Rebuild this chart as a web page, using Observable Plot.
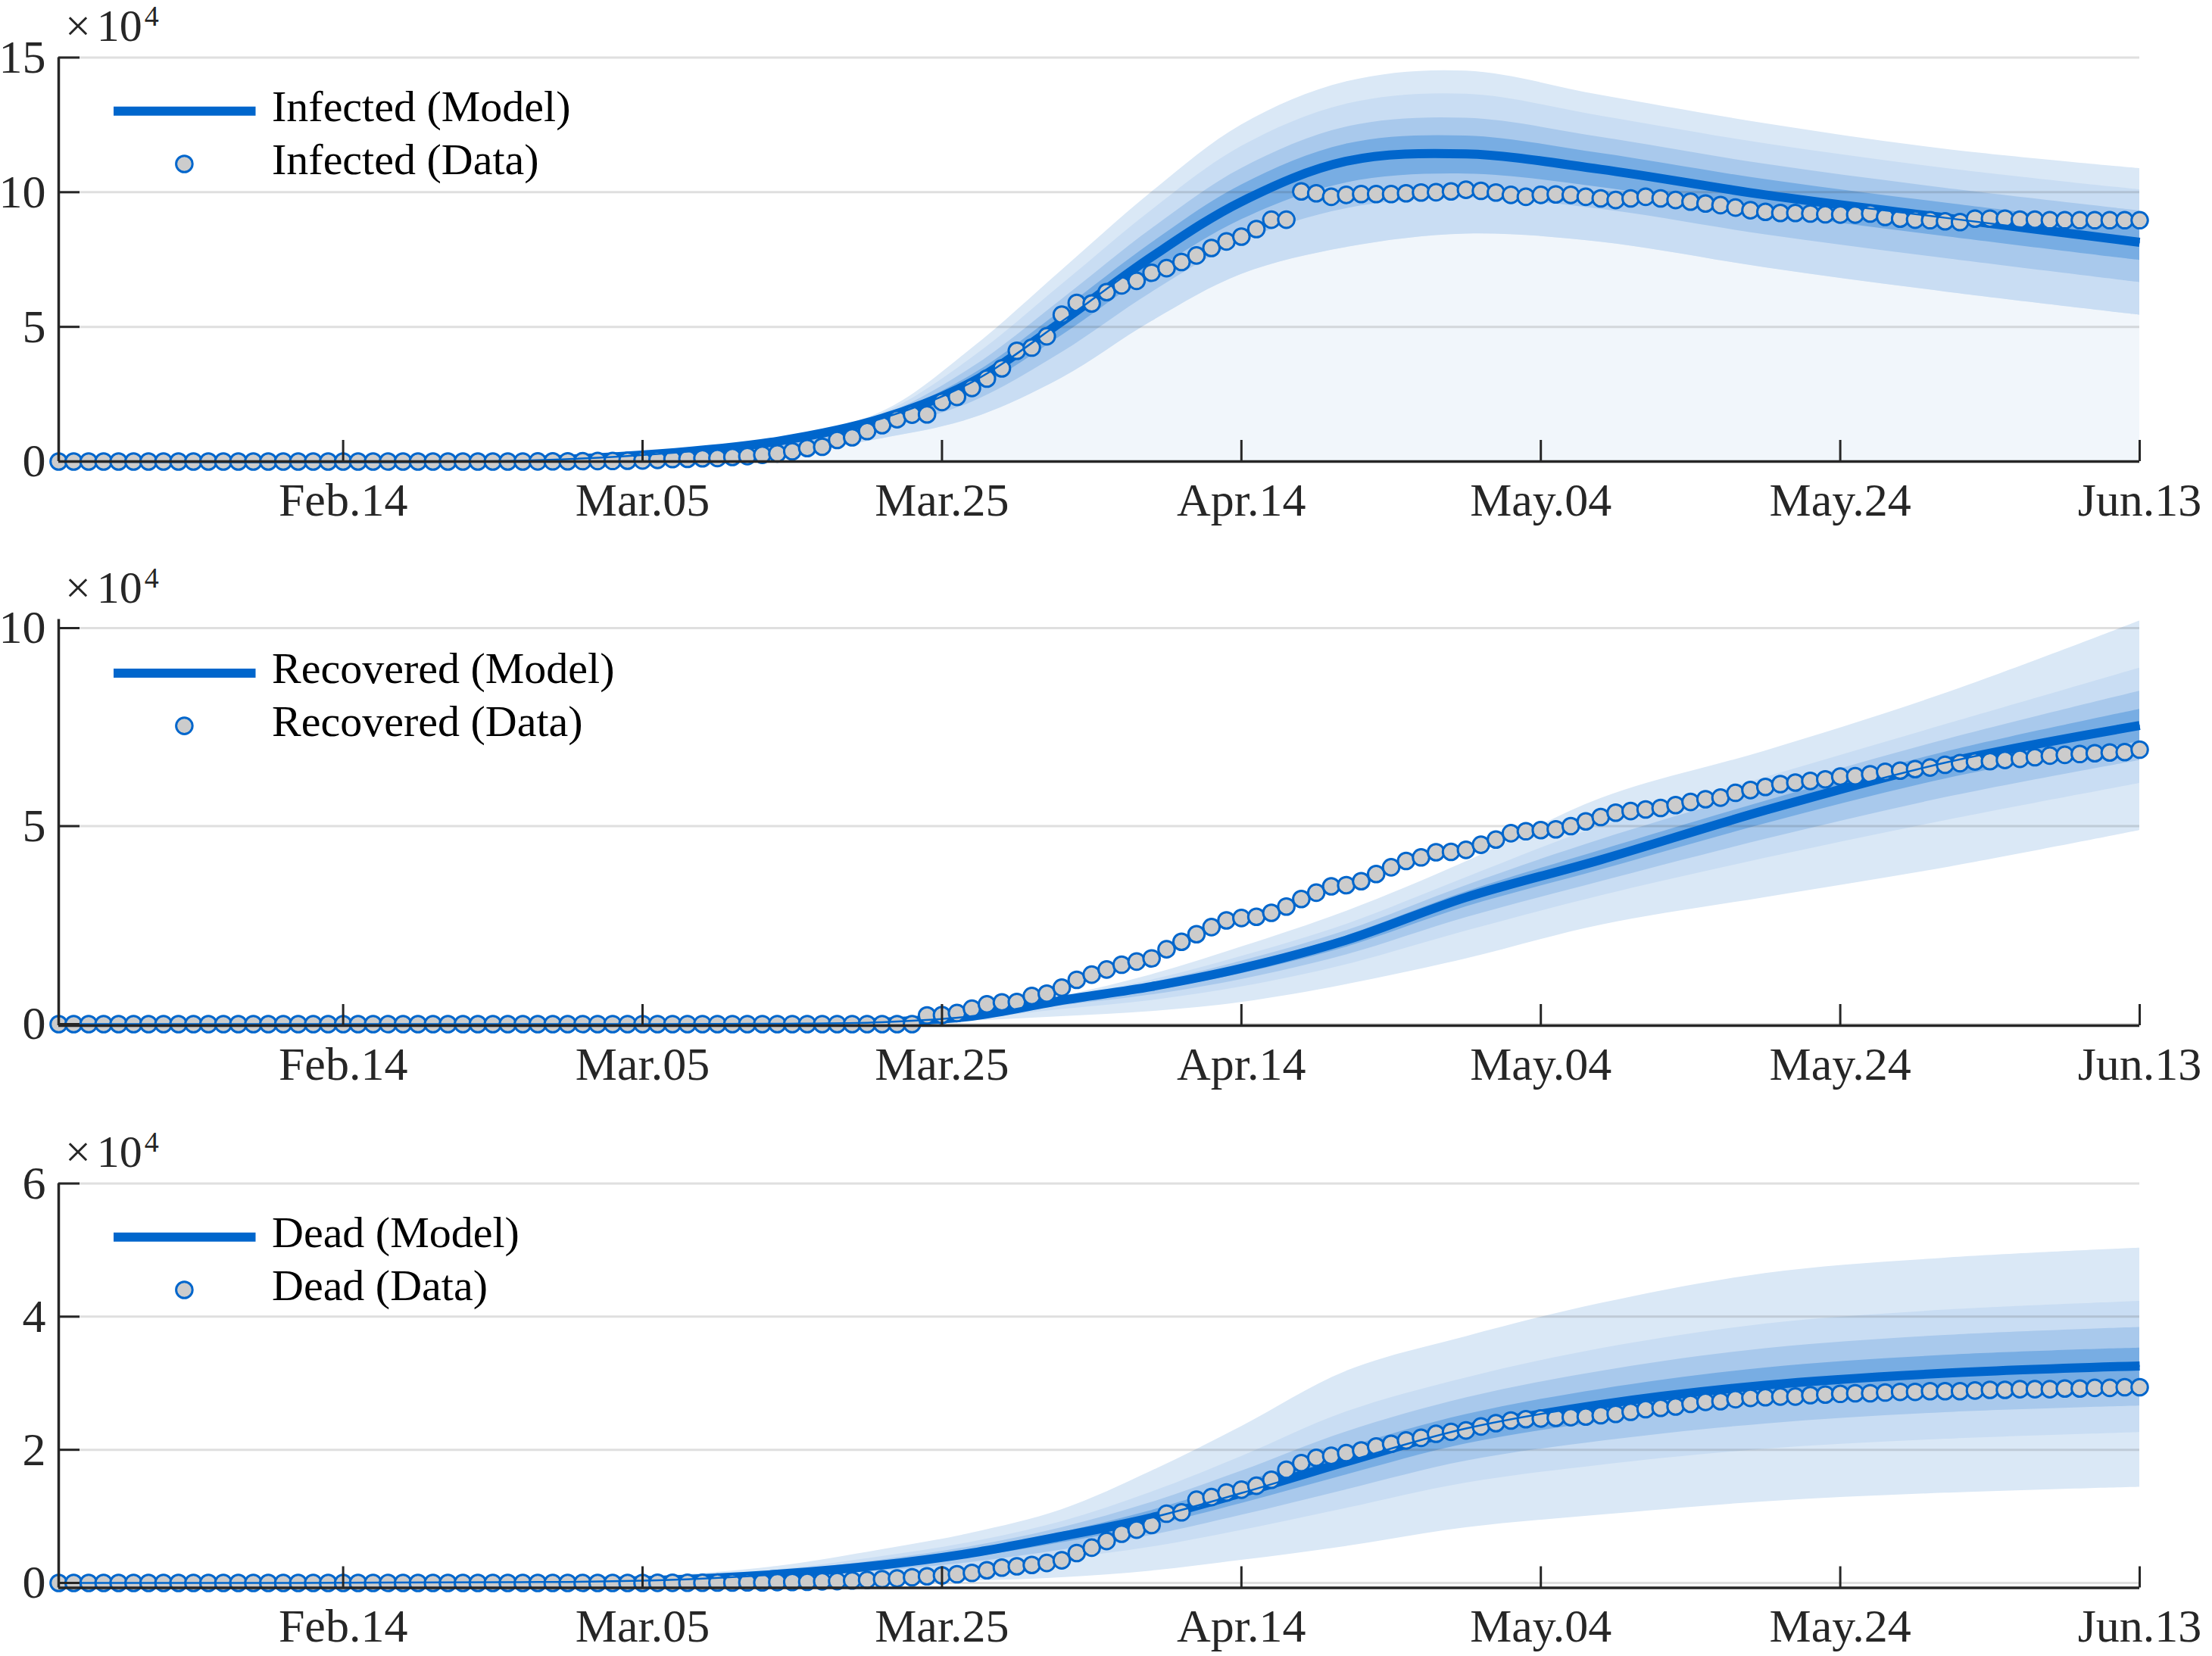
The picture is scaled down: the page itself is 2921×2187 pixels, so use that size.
<!DOCTYPE html>
<html>
<head>
<meta charset="utf-8">
<script src="https://cdn.jsdelivr.net/npm/d3@7"></script>
<script src="https://cdn.jsdelivr.net/npm/@observablehq/plot@0.6"></script>
<style>
  html, body { margin: 0; padding: 0; background: #ffffff; }
  #root { position: relative; width: 2921px; height: 2187px; overflow: hidden; }
  #root svg { position: absolute; left: 0; }
</style>
</head>
<body>
<div id="root"></div>
<script>
// ---------------- data (values in units of 10^4) ----------------
const startDay = "2020-01-26";           // first daily value
const xTickDays = ["2020-02-14","2020-03-05","2020-03-25","2020-04-14","2020-05-04","2020-05-24","2020-06-13"];
const xTickLabels = ["Feb.14","Mar.05","Mar.25","Apr.14","May.04","May.24","Jun.13"];

// daily observations, Jan 26 .. Jun 13 (140 days)
const infectedData = [
  0,0,0,0,0,0,0,0,0,0, 0,0,0,0,0,0,0,0,0,0, 0,0,0,0,0,0,0,0,0,0,
  0.001,0.002,0.004,0.005,0.009,0.012,0.018,0.019,
  0.03,0.04,0.06,0.09,0.1,0.12,0.13,0.17,0.2,0.25,0.3,0.38,
  0.5,0.55,0.8,0.9,1.13,1.35,1.57,1.74,1.75,2.21,2.4,2.73,3.08,3.46,4.11,4.23,4.65,5.45,5.89,5.87,
  6.29,6.54,6.71,7.01,7.18,7.41,7.65,7.93,8.17,8.35,8.63,8.98,8.98,
  10.03,9.96,9.83,9.9,9.93,9.93,9.93,9.96,9.99,10.0,10.03,10.09,10.05,9.99,9.9,9.83,9.9,9.92,9.9,9.83,
  9.77,9.71,9.77,9.83,9.77,9.71,9.65,9.58,9.52,9.43,9.33,9.27,9.23,9.23,9.21,9.18,9.17,9.17,9.21,9.08,
  9.02,8.98,8.96,8.92,8.89,9.02,9.02,9.02,8.98,8.98,8.96,8.96,8.96,8.96,8.96,8.96,8.96
];
const recoveredData = [
  0,0,0,0,0,0,0,0,0,0, 0,0,0,0,0,0,0,0.0002,0.0002,0.0002,
  0.0004,0.0004,0.0004,0.0004,0.0004,0.0004,0.0004,0.0004,0.0004,0.0004, 0.0004,0.0004,0.0011,0.0011,0.0011,
  0.0012,0.0012,0.0012,0.0012,0.0012,0.0012,0.0012,0.0012,0.0012,0.0012, 0.0012,0.0012,0.0012,0.0012,0.0012,
  0.0012,0.0012,0.0012,0.0012,0.0012,0.0012,0.0012,0.0012,
  0.22,0.23,0.28,0.39,0.5,0.55,0.56,0.71,0.77,0.92,1.12,1.25,1.38,1.5,1.58,1.66,1.89,2.08,2.27,2.45,
  2.62,2.68,2.71,2.81,2.97,3.16,3.32,3.48,3.51,3.61,3.79,3.96,4.12,4.21,4.34,4.35,4.4,4.53,4.66,4.82,
  4.87,4.9,
  4.92,5.0,5.12,5.23,5.34,5.38,5.42,5.46,5.53,5.61,5.68,5.72,5.84,5.91,5.99,6.06,6.1,6.14,6.18,6.25,
  6.26,6.31,6.37,6.4,6.44,6.48,6.55,6.59,6.63,6.64,6.67,6.7,6.74,6.78,6.8,6.82,6.84,6.86,6.87,6.93
];
const deadData = [
  0,0,0,0,0,0,0,0,0,0, 0,0,0,0,0,0,0,0,0,0,
  0.0001,0.0001,0.0001,0.0001,0.0001,0.0001,0.0001,0.0001,0.0001,0.0001,
  0.0001,0.0001,0.0001,0.0001,0.0001,0.0001,0.0001,0.0001,
  0.0004,0.0006,0.0009,0.0019,0.0025,0.0033,0.0048,0.0061,0.0079,0.009,0.0127,0.0148,0.0175,0.0244,0.0264,0.0372,0.045,
  0.056,0.067,0.086,0.1,0.113,0.13,0.15,0.19,0.23,0.25,0.27,0.3,0.34,0.45,0.53,0.63,0.74,0.8,0.87,1.04,
  1.06,1.25,1.29,1.36,1.4,1.46,1.55,1.7,1.8,1.88,1.91,1.95,1.99,2.05,2.09,2.14,2.18,2.24,2.27,2.29,
  2.35,2.4,2.44,2.46,2.47,2.48,2.49,2.5,2.52,2.54,
  2.57,2.61,2.63,2.65,2.69,2.72,2.73,2.76,2.78,2.79,2.8,2.8,2.82,2.83,2.84,2.85,2.85,2.86,2.87,2.87,
  2.88,2.88,2.88,2.89,2.9,2.9,2.91,2.91,2.91,2.92,2.92,2.93,2.93,2.94,2.94
];

// model median and quantile-band edges, read at these day offsets from Jan 26
const bandDays = [0,30,40,48,55,61,67,73,79,86,94,103,114,126,139];

const infModel = [0,0.02,0.28,0.75,1.6,2.95,5.2,7.6,9.65,11.15,11.42,10.85,9.9,9.05,8.14];
const infUp0 = [0,0.03,0.32,0.85,1.85,4.2,7.1,10.0,12.5,14.1,14.5,13.6,12.55,11.6,10.88];
const infUp1 = [0,0.025,0.31,0.82,1.78,3.85,6.57,9.33,11.7,13.27,13.64,12.83,11.8,10.89,10.09];
const infUp2 = [0,0.023,0.298,0.792,1.708,3.49,6.02,8.64,10.88,12.42,12.75,12.04,11.04,10.15,9.31];
const infUp3 = [0,0.0215,0.289,0.771,1.654,3.22,5.61,8.12,10.27,11.79,12.09,11.44,10.47,9.6,8.73];
const infLo1 = [0,0,0.02,0.25,0.85,1.6,3.1,5.2,6.95,7.95,8.45,8.15,7.2,6.3,5.44];
const infLo2 = [0,0.009,0.137,0.475,1.19,2.21,4.05,6.28,8.17,9.39,9.79,9.37,8.42,7.54,6.65];
const infLo3 = [0,0.015,0.215,0.625,1.41,2.61,4.68,7.0,8.98,10.35,10.68,10.18,9.23,8.36,7.47];

const recModel = [0,0,0,0.01,0.05,0.2,0.6,0.95,1.41,2.12,3.2,4.15,5.4,6.6,7.54];
const recUp0 = [0,0,0,0.01,0.06,0.25,0.7,1.25,1.95,2.85,4.1,5.7,6.9,8.35,10.18];
const recUp1 = [0,0,0,0.01,0.056,0.228,0.655,1.115,1.71,2.52,3.7,5.0,6.23,7.56,8.99];
const recUp2 = [0,0,0,0.01,0.054,0.217,0.633,1.049,1.59,2.36,3.5,4.66,5.9,7.18,8.41];
const recUp3 = [0,0,0,0.01,0.052,0.208,0.615,0.996,1.49,2.23,3.34,4.39,5.63,6.87,7.95];
const recLo0 = [0,0,0,0,0.02,0.08,0.19,0.32,0.55,1.0,1.65,2.5,3.2,3.95,4.89];
const recLo1 = [0,0,0,0.005,0.034,0.134,0.374,0.6,0.94,1.5,2.35,3.24,4.19,5.14,6.08];
const recLo2 = [0,0,0,0.007,0.04,0.16,0.464,0.74,1.13,1.75,2.69,3.6,4.67,5.72,6.66];
const recLo3 = [0,0,0,0.0086,0.0455,0.18,0.537,0.852,1.278,1.946,2.962,3.895,5.061,6.191,7.131];

const deadModel = [0,0.01,0.04,0.13,0.27,0.45,0.7,0.98,1.35,1.82,2.32,2.68,2.97,3.15,3.26];
const deadUp0 = [0,0.02,0.1,0.25,0.5,0.75,1.1,1.68,2.35,3.18,3.7,4.2,4.65,4.88,5.03];
const deadUp1 = [0,0.016,0.073,0.196,0.397,0.615,0.92,1.365,1.9,2.57,3.08,3.52,3.89,4.1,4.23];
const deadUp2 = [0,0.013,0.06,0.17,0.346,0.55,0.83,1.21,1.68,2.27,2.78,3.18,3.52,3.72,3.84];
const deadUp3 = [0,0.012,0.049,0.148,0.305,0.496,0.76,1.09,1.5,2.03,2.53,2.91,3.23,3.42,3.53];
const deadLo0 = [0,0,0,0.005,0.01,0.03,0.08,0.18,0.34,0.55,0.83,1.02,1.22,1.35,1.44];
const deadLo1 = [0,0.0045,0.018,0.061,0.127,0.219,0.359,0.54,0.79,1.12,1.5,1.77,2.01,2.16,2.26];
const deadLo2 = [0,0.007,0.027,0.089,0.184,0.311,0.495,0.716,1.017,1.4,1.83,2.13,2.39,2.56,2.66];
const deadLo3 = [0,0.0085,0.034,0.111,0.23,0.385,0.605,0.857,1.194,1.624,2.09,2.42,2.7,2.87,2.98];

const infYTicks = [0,5,10,15];
const recYTicks = [0,5,10];
const deadYTicks = [0,2,4,6];

// ---------------- styling ----------------
const BLUE = "#0066cc";
const BAND_COLORS = ["#dae8f6", "#c9ddf3", "#a9c9ec", "#78ade3"];
const PALE = "#f1f6fb";
const AXIS = "#262626";
const FONT = "'Liberation Serif', 'Times New Roman', serif";
const CURVE = "catmull-rom";

const parse = d3.utcParse("%Y-%m-%d");
const start = parse(startDay);
const end = parse(xTickDays[xTickDays.length - 1]);
const xTicks = xTickDays.map(parse);
const tickLabel = new Map(xTicks.map((d, i) => [+d, xTickLabels[i]]));

const W = 2921, ML = 77, MR = 96;
const frameW = W - ML - MR;

const panels = [
  { name: "Infected", data: infectedData, model: infModel,
    up: [infUp0, infUp1, infUp2, infUp3], lo: [infLo1, infLo1, infLo2, infLo3], pale: true,
    yDomain: [0, 15], yTicks: infYTicks, top: 0, height: 720, mt: 75.5, mb: 111 },
  { name: "Recovered", data: recoveredData, model: recModel,
    up: [recUp0, recUp1, recUp2, recUp3], lo: [recLo0, recLo1, recLo2, recLo3], pale: false,
    yDomain: [-0.038, 10.218], yTicks: recYTicks, top: 720, height: 740, mt: 97.6, mb: 106 },
  { name: "Dead", data: deadData, model: deadModel,
    up: [deadUp0, deadUp1, deadUp2, deadUp3], lo: [deadLo0, deadLo1, deadLo2, deadLo3], pale: false,
    yDomain: [-0.074, 6], yTicks: deadYTicks, top: 1460, height: 727, mt: 102.5, mb: 90.5 }
];

const root = document.getElementById("root");

for (const p of panels) {
  const frameH = p.height - p.mt - p.mb;
  const rows = bandDays.map((d, i) => {
    const r = { date: d3.utcDay.offset(start, d), m: p.model[i] };
    for (let k = 0; k < 4; k++) { r["up" + k] = p.up[k][i]; r["lo" + k] = p.lo[k][i]; }
    return r;
  });
  const obs = p.data.map((v, i) => ({ date: d3.utcDay.offset(start, i), v }));
  const curve = CURVE;

  const marks = [];
  if (p.pale) marks.push(Plot.areaY(rows, { x: "date", y: "lo0", fill: PALE, curve }));
  for (let k = 0; k < 4; k++) {
    marks.push(Plot.areaY(rows, { x: "date", y1: "lo" + k, y2: "up" + k, fill: BAND_COLORS[k], curve }));
  }
  marks.push(
    Plot.ruleY(p.yTicks, { stroke: AXIS, strokeOpacity: 0.15, strokeWidth: 3 }),
    Plot.line(rows, { x: "date", y: "m", stroke: BLUE, strokeWidth: 12, curve, strokeLinecap: "butt" }),
    Plot.dot(obs, { x: "date", y: "v", r: 10.8, fill: "#cccccc", stroke: BLUE, strokeWidth: 3 }),
    Plot.line(rows, { x: "date", y: "m", stroke: BLUE, strokeWidth: 2.5, curve, strokeLinecap: "butt" }),
    // axis lines
    Plot.ruleX([start], { stroke: AXIS, strokeWidth: 3.5 }),
    Plot.ruleY([p.yDomain[0]], { stroke: AXIS, strokeWidth: 3.5 }),
    // inward tick marks
    Plot.ruleX(xTicks, { stroke: AXIS, strokeWidth: 3, insetTop: frameH - 28 }),
    Plot.ruleY(p.yTicks, { stroke: AXIS, strokeWidth: 3, insetRight: frameW - 28 })
  );

  const svg = Plot.plot({
    width: W, height: p.height,
    marginLeft: ML, marginRight: MR, marginTop: p.mt, marginBottom: p.mb,
    style: { fontFamily: FONT, fontSize: "62px", color: AXIS, background: "transparent", overflow: "visible" },
    x: { type: "utc", domain: [start, end], ticks: xTicks, tickFormat: d => tickLabel.get(+d) ?? "",
         tickSize: 0, tickPadding: 27, label: null },
    y: { domain: p.yDomain, ticks: p.yTicks, tickFormat: d3.format("d"), tickSize: 0, tickPadding: 17, label: null },
    marks
  });
  svg.style.top = p.top + "px";
  root.appendChild(svg);

  const s = d3.select(svg);
  // x10^4 multiplier
  const mult = s.append("text")
    .attr("x", 86).attr("y", p.mt - 22).attr("text-anchor", "start")
    .attr("font-family", FONT).attr("font-size", 60).attr("fill", AXIS);
  mult.append("tspan").text("×");
  mult.append("tspan").attr("dx", 8).text("10");
  mult.append("tspan").attr("dx", 3).attr("dy", -20).attr("font-size", 38).text("4");

  // legend
  const ly = p.mt + 71.3, my = p.mt + 141;
  s.append("line").attr("x1", 150).attr("x2", 337.5).attr("y1", ly).attr("y2", ly)
    .attr("stroke", BLUE).attr("stroke-width", 12);
  s.append("circle").attr("cx", 243.4).attr("cy", my).attr("r", 10.8)
    .attr("fill", "#cccccc").attr("stroke", BLUE).attr("stroke-width", 3);
  s.append("text").attr("x", 359).attr("y", ly + 13).attr("text-anchor", "start").attr("font-family", FONT)
    .attr("font-size", 58).attr("fill", "#000").text(p.name + " (Model)");
  s.append("text").attr("x", 359).attr("y", my + 13.5).attr("text-anchor", "start").attr("font-family", FONT)
    .attr("font-size", 58).attr("fill", "#000").text(p.name + " (Data)");
}
</script>
</body>
</html>
